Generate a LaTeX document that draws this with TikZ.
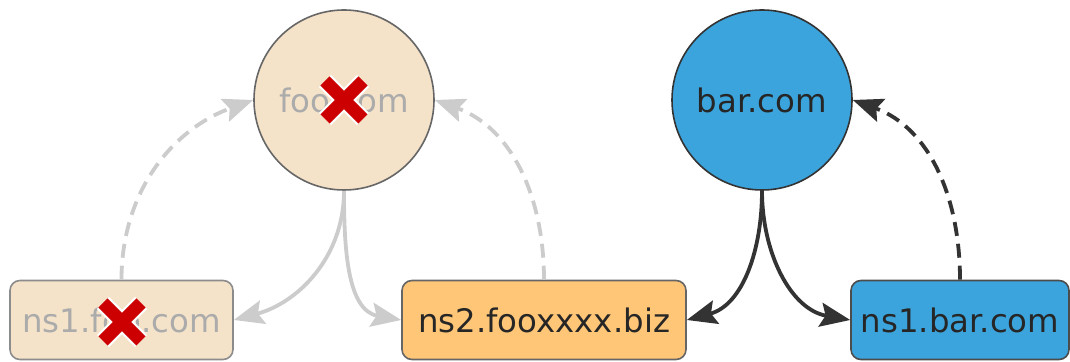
\documentclass[tikz,border=0pt]{standalone}
\usepackage{fontspec}
\setmainfont{DejaVu Sans}
\usetikzlibrary{arrows.meta}
\usetikzlibrary{backgrounds,positioning}
\definecolor{deadfill}{HTML}{F5E3C9}
\definecolor{bizfill}{HTML}{FFC677}
\definecolor{barfill}{HTML}{3CA4DC}
\definecolor{fadeline}{HTML}{CCCCCC}
\definecolor{darkline}{HTML}{333333}
\definecolor{xred}{HTML}{CC0000}
\newcommand{\failx}[1]{%
  \begin{scope}[shift={#1},line cap=butt]
    \draw[white,line width=8.5pt] (-19,-19) -- (19,19) (-19,19) -- (19,-19);
    \draw[xred,line width=6.5pt] (-19,-19) -- (19,19) (-19,19) -- (19,-19);
  \end{scope}}

\begin{document}
\begin{tikzpicture}[x=0.5pt,y=-0.5pt]
      \tikzstyle{every node}=[font=\fontsize{16.2}{19}\selectfont]
      \tikzstyle{host}=[circle,minimum size=90pt,inner sep=0pt,line width=0.8pt]
      \tikzstyle{nsbox}=[rectangle,rounded corners=5pt,minimum height=39.5pt,inner xsep=2pt,line width=0.8pt]
      \tikzstyle{fadeflow}=[fadeline,line width=1.9pt,-{Stealth[length=15pt,width=12pt,inset=2.5pt]}]
      \tikzstyle{darkflow}=[darkline,line width=1.9pt,-{Stealth[length=15pt,width=12pt,inset=2.5pt]}]
      \tikzstyle{glue}=[dash pattern=on 7pt off 4pt]
      \useasboundingbox (0,0) rectangle (1070,362);

      \node[host,draw=black!60,fill=deadfill,text=black!33] (foo) at (344,100) {foo.com};
      \node[host,draw=black!80,fill=barfill,text=black!85] (bar) at (762,100) {bar.com};
      \node[nsbox,draw=black!45,fill=deadfill,text=black!33,minimum width=111.5pt] (nsfoo) at (121.5,320) {ns1.foo.com};
      \node[nsbox,draw=black!60,fill=bizfill,text=black!85,minimum width=142pt] (nsbiz) at (544,320) {ns2.fooxxxx.biz};
      \node[nsbox,draw=black!70,fill=barfill,text=black!85,minimum width=109pt] (nsbar) at (960,320) {ns1.bar.com};

      \draw[fadeflow] (foo.south) to[out=-90,in=15] (nsfoo.east);
      \draw[fadeflow] (foo.south) to[out=-90,in=170] (nsbiz.west);
      \draw[fadeflow,glue] (nsfoo.north) to[out=90,in=200] (foo.west);
      \draw[fadeflow,glue] (nsbiz.north) to[out=90,in=-20] (foo.east);

      \draw[darkflow] (bar.south) to[out=-90,in=15] (nsbiz.east);
      \draw[darkflow] (bar.south) to[out=-90,in=170] (nsbar.west);
      \draw[darkflow,glue] (nsbar.north) to[out=90,in=-20] (bar.east);

      \failx{(foo.center)}
      \failx{(122,322)}
    \end{tikzpicture}
\end{document}
